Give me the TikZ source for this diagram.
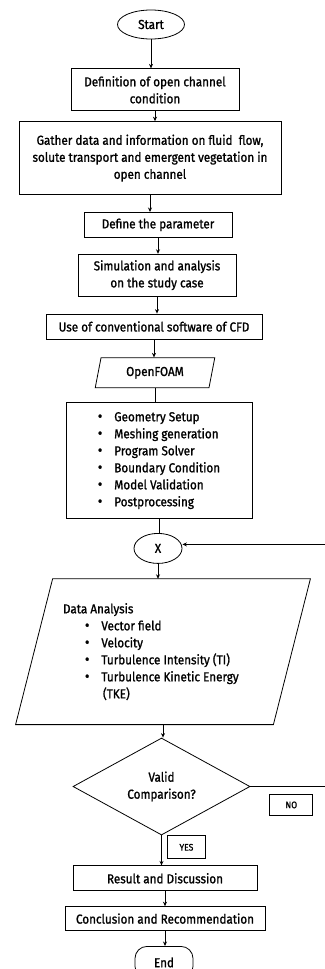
\documentclass[tikz,border=0pt]{standalone}
\usepackage{fontspec}
\setmainfont{Fira Sans}[FakeStretch=0.9, FakeBold=1.2]
\usetikzlibrary{arrows.meta,positioning,shapes.geometric,calc}

\newcommand{\blt}{{\fontsize{15}{15}\selectfont\textbullet}}

\begin{document}
\begin{tikzpicture}[
  x=1pt, y=1pt,
  box/.style={rectangle, draw, minimum height=25pt, align=center, inner sep=2pt},
  term/.style={ellipse, draw, inner sep=0pt},
  io/.style={trapezium, trapezium stretches=true, draw, inner sep=1pt},
  tag/.style={rectangle, draw, inner sep=0pt, font=\fontsize{9.5}{10}\selectfont},
  >={Stealth[length=4.5pt,width=4pt]}, line width=0.8pt,
  font=\fontsize{13}{17}\selectfont
]
  \useasboundingbox (0,0) rectangle (324,-969);

  % Main column
  \node[term, minimum width=67pt, minimum height=29pt] (start) at (151,-24.5) {Start};
  \node[box, minimum width=168pt, minimum height=42pt, below=29pt of start, xshift=4pt] (defn)
       {Definition of open channel\\condition};
  \node[box, minimum width=262pt, minimum height=73pt, below=10pt of defn, xshift=-5pt] (gather)
       {Gather data and information on fluid\ \ flow,\\solute transport and emergent vegetation in\\open channel};
  \node[box, minimum width=148pt, below=17pt of gather, xshift=8pt] (param) {Define the parameter};
  \node[box, minimum width=158pt, minimum height=42pt, below=16pt of param, xshift=-1pt] (sim)
       {Simulation and analysis\\on the study case};
  \node[box, minimum width=216pt, below=17pt of sim, xshift=-3pt] (cfd) {Use of conventional software of CFD};
  \node[io, trapezium left angle=77, trapezium right angle=103,
        minimum width=120pt, minimum height=30pt, below=18pt of cfd, xshift=1pt] (foam) {OpenFOAM};
  \node[box, minimum width=186pt, minimum height=116pt, align=left, below=14pt of foam, xshift=4pt] (steps)
       {\blt\hspace{12pt}Geometry Setup\\
        \blt\hspace{12pt}Meshing generation\\
        \blt\hspace{12pt}Program Solver\\
        \blt\hspace{12pt}Boundary Condition\\
        \blt\hspace{12pt}Model Validation\\
        \blt\hspace{12pt}Postprocessing};
  \node[term, minimum width=48pt, minimum height=30pt, below=14pt of steps, xshift=-1pt] (xnode) {X};
  % data block: slanted sides drawn from the frame corners
  \node[rectangle, minimum width=294pt, minimum height=145pt, below=15pt of xnode, xshift=5pt] (data) {};
  \draw ([xshift=37pt]data.north west) -- (data.north east)
        -- ([xshift=-37pt]data.south east) -- (data.south west) -- cycle;
  \node[align=left, anchor=west, inner sep=0pt] (datatxt) at ([xshift=47pt]data.west)
       {Data Analysis\\
        \hspace*{22pt}\blt\hspace{12pt}Vector field\\
        \hspace*{22pt}\blt\hspace{12pt}Velocity\\
        \hspace*{22pt}\blt\hspace{12pt}Turbulence Intensity (TI)\\
        \hspace*{22pt}\blt\hspace{12pt}Turbulence Kinetic Energy\\
        \hspace*{40pt}(TKE)};
  \node[diamond, draw, aspect=1.82, inner sep=0pt, minimum width=177pt, minimum height=97pt,
        align=center, below=13pt of data, xshift=-1.5pt] (valid) {Valid\\Comparison?};
  \node[box, minimum width=184pt, below=30pt of valid, xshift=3.5pt] (result) {Result and Discussion};
  \node[box, minimum width=200pt, minimum height=24pt, below=15pt of result] (concl)
       {Conclusion and Recommendation};
  \node[rectangle, draw, rounded corners=12pt, minimum width=58pt, minimum height=32pt,
        below=15pt of concl, xshift=-1pt] (finish) {End};

  % Decision labels
  \node[tag, minimum width=38pt, minimum height=23pt, below right=0pt and 5.5pt of valid.south] (yes) {YES};
  \node[tag, minimum width=43pt, minimum height=21pt, below right=7.5pt and 19pt of valid.east] (no) {NO};

  % Arrows
  \draw[->] (start.south) -- (start.south |- defn.north);
  \draw[->] (defn.south) -- (defn.south |- gather.north);
  \draw[->] (gather.south) -- (gather.south |- param.north);
  \draw[->] (param.south) -- (param.south |- sim.north);
  \draw[->] (sim.south) -- (sim.south |- cfd.north);
  \draw[->] (cfd.south) -- (cfd.south |- foam.north);
  \draw (foam.south) -- (foam.south |- steps.north);
  \draw (steps.south) -- (steps.south |- xnode.north);
  \draw[->] (xnode.south) -- (xnode.south |- data.north);
  \draw[->] (data.south) -- (data.south |- valid.north);
  \draw[->] (valid.south) -- (valid.south |- result.north);
  \draw[->] (result.south) -- (result.south |- concl.north);
  \draw[->] (concl.south) -- (concl.south |- finish.north);

  % Loop back
  \coordinate[right=80pt of valid.east] (loop);
  \draw[->] (valid.east) -- (loop) |- ($(xnode.east)+(0,4)$);
\end{tikzpicture}
\end{document}
